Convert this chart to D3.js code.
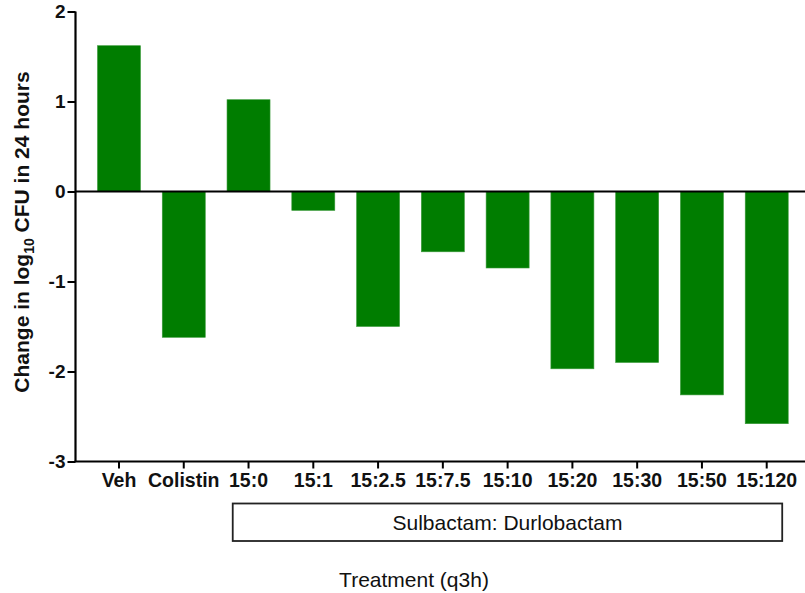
<!DOCTYPE html>
<html>
<head>
<meta charset="utf-8">
<script src="https://cdn.jsdelivr.net/npm/d3@7"></script>
<style>
  body { margin: 0; background: #fff; }
  svg { display: block; }
</style>
</head>
<body>
<svg id="chart" width="805" height="593"></svg>
<script>
const categories = ["Veh", "Colistin", "15:0", "15:1", "15:2.5", "15:7.5", "15:10", "15:20", "15:30", "15:50", "15:120"];
const values = [1.62, -1.62, 1.02, -0.21, -1.50, -0.67, -0.85, -1.97, -1.90, -2.26, -2.58];
const yTicks = [2, 1, 0, -1, -2, -3];
const groupLabel = "Sulbactam: Durlobactam";
const groupStart = "15:0";
const groupEnd = "15:120";

const svg = d3.select("#chart");
const axisX = 75.5;

const y = d3.scaleLinear().domain([-3, 2]).range([461.5, 11.5]);
const x = d3.scaleBand().domain(categories).range([86.6, 799.1])
  .paddingInner(0.336).paddingOuter(0.168);
const cx = c => x(c) + x.bandwidth() / 2;

// bars
svg.append("g").selectAll("rect").data(values).join("rect")
  .attr("x", (d, i) => x(categories[i]))
  .attr("width", x.bandwidth())
  .attr("y", d => y(Math.max(0, d)))
  .attr("height", d => Math.abs(y(d) - y(0)))
  .attr("fill", "#007d00")
  .attr("stroke", "#3a9a3a")
  .attr("stroke-width", 0.6);

// zero line
svg.append("line")
  .attr("x1", axisX).attr("x2", 805)
  .attr("y1", y(0)).attr("y2", y(0))
  .attr("stroke", "#000").attr("stroke-width", 2.2);

// y axis
const yAxis = svg.append("g")
  .attr("transform", `translate(${axisX},0)`)
  .call(d3.axisLeft(y).tickValues(yTicks).tickSize(8).tickPadding(2).tickFormat(d => String(d)));
yAxis.select(".domain").attr("stroke-width", 2.2).attr("d", `M0,${y(2)}V${y(-3)}`);
yAxis.selectAll(".tick line").attr("stroke-width", 2);
yAxis.selectAll(".tick text")
  .attr("font-family", "Liberation Sans, Arial, sans-serif")
  .attr("font-weight", "bold").attr("font-size", 19).attr("fill", "#111");

// x axis
const xAxis = svg.append("g")
  .attr("transform", `translate(0,${y(-3)})`)
  .call(d3.axisBottom(x).tickSize(7).tickPadding(5));
xAxis.select(".domain").remove();
xAxis.selectAll(".tick line").attr("stroke-width", 2);
xAxis.selectAll(".tick text")
  .attr("font-family", "Liberation Sans, Arial, sans-serif")
  .attr("font-weight", "bold").attr("font-size", 19.5).attr("fill", "#111");
svg.append("line")
  .attr("x1", axisX - 1).attr("x2", 805)
  .attr("y1", y(-3)).attr("y2", y(-3))
  .attr("stroke", "#000").attr("stroke-width", 2.2);

// group box
const bx1 = cx(groupStart) - 15.8;
const bx2 = cx(groupEnd) + 15.5;
svg.append("rect")
  .attr("x", bx1).attr("y", 503.5)
  .attr("width", bx2 - bx1).attr("height", 37.5)
  .attr("fill", "none").attr("stroke", "#222").attr("stroke-width", 1.8);
svg.append("text")
  .attr("x", (bx1 + bx2) / 2).attr("y", 530)
  .attr("text-anchor", "middle")
  .attr("font-family", "Liberation Sans, Arial, sans-serif")
  .attr("font-size", 21).attr("fill", "#111")
  .text(groupLabel);

// x title
svg.append("text")
  .attr("x", 414).attr("y", 587)
  .attr("text-anchor", "middle")
  .attr("font-family", "Liberation Sans, Arial, sans-serif")
  .attr("font-size", 21).attr("fill", "#111")
  .text("Treatment (q3h)");

// y title
const yt = svg.append("text")
  .attr("transform", "translate(29,232) rotate(-90)")
  .attr("text-anchor", "middle")
  .attr("font-family", "Liberation Sans, Arial, sans-serif")
  .attr("font-weight", "bold").attr("font-size", 21).attr("fill", "#111");
yt.append("tspan").text("Change in log");
yt.append("tspan").attr("font-size", 14).attr("dy", 5).text("10");
yt.append("tspan").attr("dy", -5).text(" CFU in 24 hours");
</script>
</body>
</html>
